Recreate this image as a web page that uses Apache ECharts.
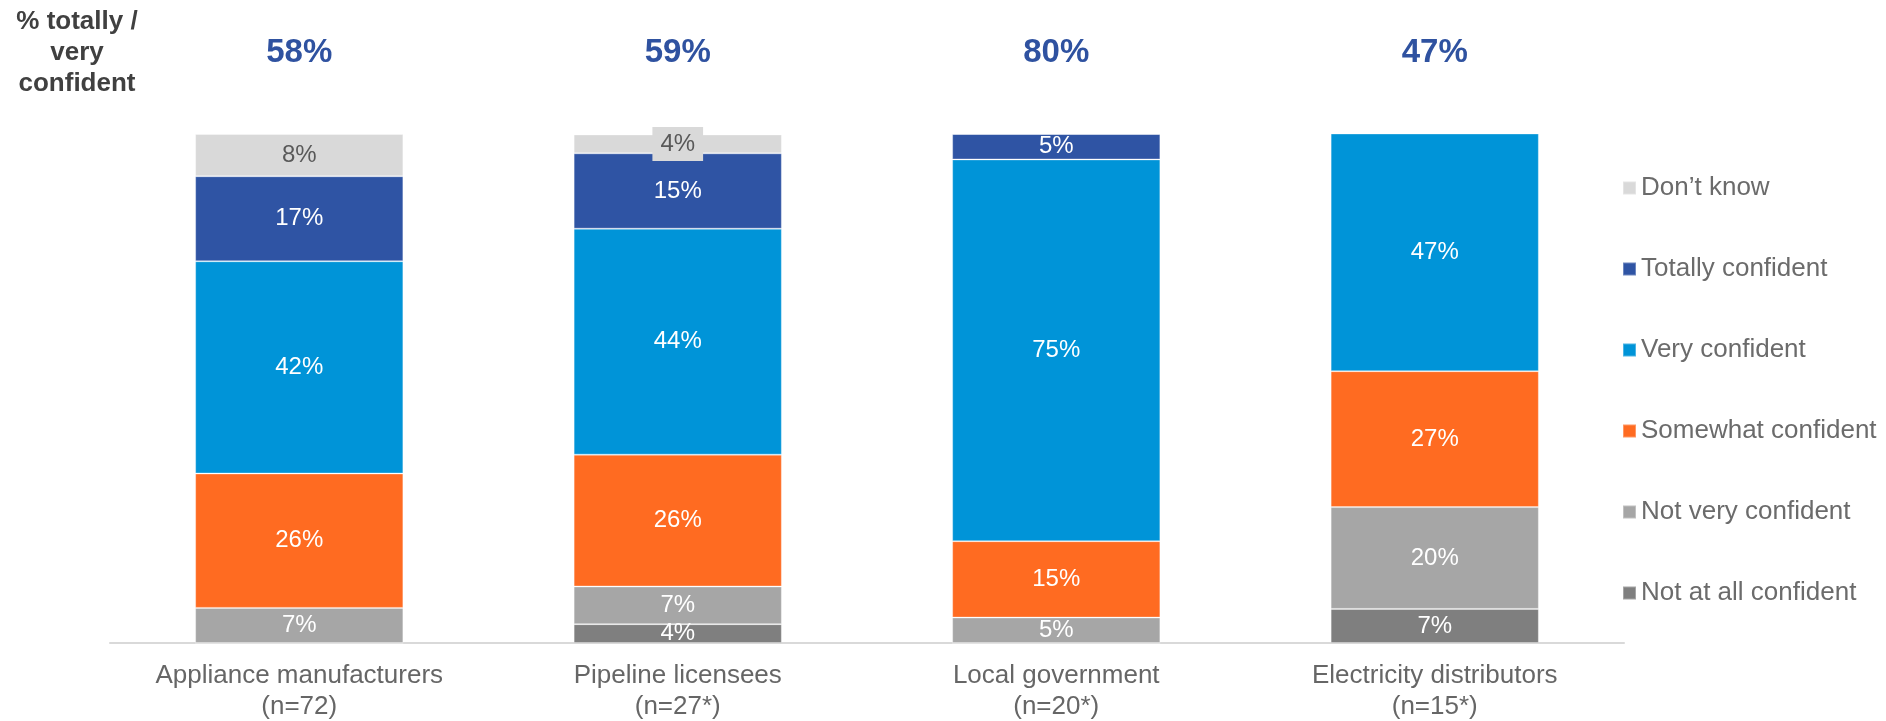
<!DOCTYPE html>
<html>
<head>
<meta charset="utf-8">
<script src="https://cdn.jsdelivr.net/npm/echarts@6/dist/echarts.min.js"></script>
<style>
  html, body { margin: 0; padding: 0; background: #fff; }
  #chart { width: 1886px; height: 721px; }
</style>
</head>
<body>
<div id="chart"></div>
<script>
// categories + sample sizes
var categories = ['Appliance manufacturers', 'Pipeline licensees', 'Local government', 'Electricity distributors'];
var sampleSizes = ['(n=72)', '(n=27*)', '(n=20*)', '(n=15*)'];
// % totally / very confident, shown above each bar
var topPct = ['58%', '59%', '80%', '47%'];

// stacked from the bottom up
var notAtAll = [0, 3.7, 0, 6.7];
var notVery = [6.9, 7.4, 5, 20];
var somewhat = [26.4, 25.9, 15, 26.7];
var very = [41.7, 44.4, 75, 46.7];
var totally = [16.7, 14.8, 5, 0];
var dontKnow = [8.3, 3.7, 0, 0];

var font = '"Liberation Sans", Arial, sans-serif';

function makeSeries(name, values, color, labelColor, labelBg) {
  return {
    name: name,
    type: 'bar',
    stack: 'total',
    barWidth: '55%',
    animation: false,
    itemStyle: {
      color: color,
      borderColor: 'rgba(255,255,255,0.3)',
      borderWidth: 1
    },
    label: {
      show: true,
      position: 'inside',
      fontFamily: font,
      fontSize: 24,
      color: labelColor,
      backgroundColor: labelBg || 'transparent',
      padding: labelBg ? [5, 8] : 0,
      formatter: function (p) {
        return Math.round(p.value) + '%';
      }
    },
    data: values.map(function (v) {
      return { value: v, label: { show: v > 0 } };
    })
  };
}

var option = {
  backgroundColor: '#fff',
  textStyle: { fontFamily: font },
  grid: { left: 110, right: 262, top: 134, bottom: 78, outerBoundsMode: 'none', containLabel: false },
  legend: {
    orient: 'vertical',
    left: 1622,
    top: 174,
    padding: 0,
    itemWidth: 13,
    itemHeight: 13,
    itemGap: 53,
    icon: 'rect',
    textStyle: { fontFamily: font, fontSize: 26, lineHeight: 28, color: '#6b6b6b' },
    data: ['Don’t know', 'Totally confident', 'Very confident', 'Somewhat confident', 'Not very confident', 'Not at all confident']
  },
  graphic: [{
    type: 'text',
    x: 77,
    y: 6,
    style: {
      text: '% totally /\nvery\nconfident',
      font: 'bold 26px "Liberation Sans", Arial, sans-serif',
      fill: '#404040',
      align: 'center',
      textAlign: 'center',
      lineHeight: 31
    }
  }],
  xAxis: [{
    type: 'category',
    data: categories,
    axisLine: { lineStyle: { color: '#d9d9d9', width: 2 } },
    axisTick: { show: false },
    axisLabel: {
      margin: 17,
      fontFamily: font,
      fontSize: 26,
      lineHeight: 31,
      color: '#666666',
      formatter: function (v, i) {
        return v + '\n' + sampleSizes[i];
      }
    }
  }, {
    type: 'category',
    position: 'top',
    data: topPct,
    axisLine: { show: false },
    axisTick: { show: false },
    axisLabel: {
      margin: 65,
      fontFamily: font,
      fontSize: 33,
      fontWeight: 'bold',
      color: '#2f52a0'
    }
  }],
  yAxis: {
    type: 'value',
    min: 0,
    max: 100,
    show: false,
    splitLine: { show: false }
  },
  series: [
    makeSeries('Not at all confident', notAtAll, '#7f7f7f', '#ffffff'),
    makeSeries('Not very confident', notVery, '#a6a6a6', '#ffffff'),
    makeSeries('Somewhat confident', somewhat, '#ff6b21', '#ffffff'),
    makeSeries('Very confident', very, '#0094d8', '#ffffff'),
    makeSeries('Totally confident', totally, '#2f54a4', '#ffffff'),
    makeSeries('Don’t know', dontKnow, '#d9d9d9', '#595959', '#d9d9d9')
  ]
};

var chart = echarts.init(document.getElementById('chart'), null, { renderer: 'canvas' });
chart.setOption(option);
</script>
</body>
</html>
